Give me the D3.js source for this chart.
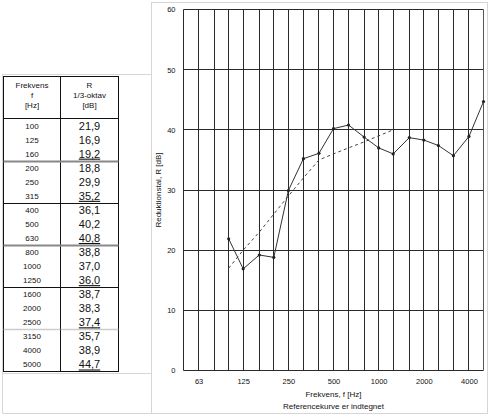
<!DOCTYPE html>
<html><head><meta charset="utf-8">
<script src="https://cdn.jsdelivr.net/npm/d3@7"></script>
<style>
html,body{margin:0;padding:0;background:#fff;}
svg{display:block;}
text{font-family:"Liberation Sans",Arial,sans-serif;fill:#111;}
</style></head>
<body><svg id="c" width="490" height="417"></svg>
<script>
// ---- data ----
const freqs = [100,125,160,200,250,315,400,500,630,800,1000,1250,1600,2000,2500,3150,4000,5000];
const rValues = [21.9,16.9,19.2,18.8,29.9,35.2,36.1,40.2,40.8,38.8,37.0,36.0,38.7,38.3,37.4,35.7,38.9,44.7];
const refFreqs = [100,125,160,200,250,315,400,500,630,800,1000,1250];
const refValues = [17,20,23,26,29,32,35,36,37,38,39,40];
const gridFreqs = [63,80,100,125,160,200,250,315,400,500,630,800,1000,1250,1600,2000,2500,3150,4000];
const xTickLabels = [63,125,250,500,1000,2000,4000];
const yTicks = [0,10,20,30,40,50,60];
const tableHeadF = ["Frekvens","f","[Hz]"];
const tableHeadR = ["R","1/3-oktav","[dB]"];

const svg = d3.select("#c");
const panelGray = "#d6d6d6";

// ---- panels ----
svg.append("rect").attr("x",151.5).attr("y",2.5).attr("width",336).attr("height",411)
  .attr("fill","none").attr("stroke",panelGray);
svg.append("path").attr("d","M151.5,74.5H2.5V413.5H151.5").attr("fill","none").attr("stroke",panelGray);
svg.append("line").attr("x1",2.5).attr("x2",151).attr("y1",373.5).attr("y2",373.5).attr("stroke",panelGray);

// ---- chart ----
const L=183.5, R=483.5, T=9.5, B=370.5;
const x = d3.scaleLog().domain([50,5000]).range([L,R]);
const y = d3.scaleLinear().domain([0,60]).range([B,T]);
const px = v => Math.round(x(v)-0.5)+0.5;

const g = svg.append("g");
g.selectAll("line.v").data(gridFreqs).join("line")
  .attr("x1",d=>px(d)).attr("x2",d=>px(d)).attr("y1",T).attr("y2",B)
  .attr("stroke","#2a2a2a").attr("stroke-width",1);
g.selectAll("line.h").data(yTicks).join("line")
  .attr("x1",L).attr("x2",R).attr("y1",d=>Math.round(y(d)-0.5)+0.5).attr("y2",d=>Math.round(y(d)-0.5)+0.5)
  .attr("stroke","#2a2a2a").attr("stroke-width",1);
g.append("line").attr("x1",L).attr("x2",L).attr("y1",T).attr("y2",B).attr("stroke","#2a2a2a");
g.append("line").attr("x1",R).attr("x2",R).attr("y1",T).attr("y2",B).attr("stroke","#555");

// axes labels
const yAxis = d3.axisLeft(y).tickValues(yTicks).tickSize(0).tickPadding(8);
const ya = svg.append("g").attr("transform",`translate(${L},0)`).call(yAxis);
ya.select(".domain").remove();
ya.selectAll("text").attr("font-size","7.5px").attr("font-family","Liberation Sans, Arial, sans-serif").attr("fill","#111");

const xAxis = d3.axisBottom(x).tickValues(xTickLabels).tickFormat(d3.format("d")).tickSize(0).tickPadding(8);
const xa = svg.append("g").attr("transform",`translate(0,${B})`).call(xAxis);
xa.select(".domain").remove();
xa.selectAll("text").attr("font-size","7.5px").attr("font-family","Liberation Sans, Arial, sans-serif").attr("fill","#111");

svg.append("text").attr("transform",`translate(161,${(T+B)/2}) rotate(-90)`)
  .attr("text-anchor","middle").attr("font-size","8px").text("Reduktionstal, R [dB]");
svg.append("text").attr("x",(L+R)/2).attr("y",397).attr("text-anchor","middle")
  .attr("font-size","8px").text("Frekvens, f [Hz]");
svg.append("text").attr("x",(L+R)/2).attr("y",409).attr("text-anchor","middle")
  .attr("font-size","8px").text("Referencekurve er indtegnet");

// reference curve
const refLine = d3.line().x((d,i)=>x(refFreqs[i])).y(d=>y(d));
svg.append("path").attr("d",refLine(refValues)).attr("fill","none")
  .attr("stroke","#444").attr("stroke-width",1).attr("stroke-dasharray","3,3");

// measured curve
const mLine = d3.line().x((d,i)=>x(freqs[i])).y(d=>y(d));
svg.append("path").attr("d",mLine(rValues)).attr("fill","none")
  .attr("stroke","#333").attr("stroke-width",1);
svg.selectAll("circle.m").data(rValues).join("circle")
  .attr("cx",(d,i)=>x(freqs[i])).attr("cy",d=>y(d)).attr("r",1.6).attr("fill","#222");

// ---- table ----
const tL=3.5, tR=118.5, tC=60.5, tT=76.5, tH=118.5, tB=371.5;
const t = svg.append("g");
t.append("rect").attr("x",tL).attr("y",tT).attr("width",tR-tL).attr("height",tB-tT)
  .attr("fill","none").attr("stroke","#111");
t.append("line").attr("x1",tC).attr("x2",tC).attr("y1",tT).attr("y2",tB).attr("stroke","#111");
t.append("line").attr("x1",tL).attr("x2",tR).attr("y1",tH).attr("y2",tH).attr("stroke","#111");
const colF=(tL+tC)/2, colR=(tC+tR)/2;
tableHeadF.forEach((s,i)=>t.append("text").attr("x",colF).attr("y",88+i*10).attr("text-anchor","middle").attr("font-size","8px").attr("fill","#111").text(s));
tableHeadR.forEach((s,i)=>t.append("text").attr("x",colR).attr("y",88+i*10).attr("text-anchor","middle").attr("font-size","8px").attr("fill","#111").text(s));

const rowH = (tB-tH)/18;
const sepStyles = [
  {c:"#888",w:2,d:null},{c:"#111",w:1,d:null},{c:"#888",w:2,d:null},{c:"#111",w:1,d:null},{c:"#999",w:1.5,d:"1,1"}
];
sepStyles.forEach((s,k)=>{
  const yy = Math.round(tH+(k+1)*3*rowH)+0.5;
  t.append("line").attr("x1",tL).attr("x2",tR).attr("y1",yy).attr("y2",yy)
    .attr("stroke",s.c).attr("stroke-width",s.w).attr("stroke-dasharray",s.d);
});
freqs.forEach((f,i)=>{
  const yy = tH + i*rowH + rowH/2 + 3;
  t.append("text").attr("x",colF).attr("y",yy).attr("text-anchor","middle").attr("font-size","8px").text(f);
  const txt = t.append("text").attr("x",colR).attr("y",yy+1).attr("text-anchor","middle")
    .attr("font-size","11px").attr("font-family","Liberation Serif, Times New Roman, serif")
    .text(rValues[i].toFixed(1).replace(".",","));
  if (i%3===2) txt.attr("text-decoration","underline");
});
</script></body></html>
